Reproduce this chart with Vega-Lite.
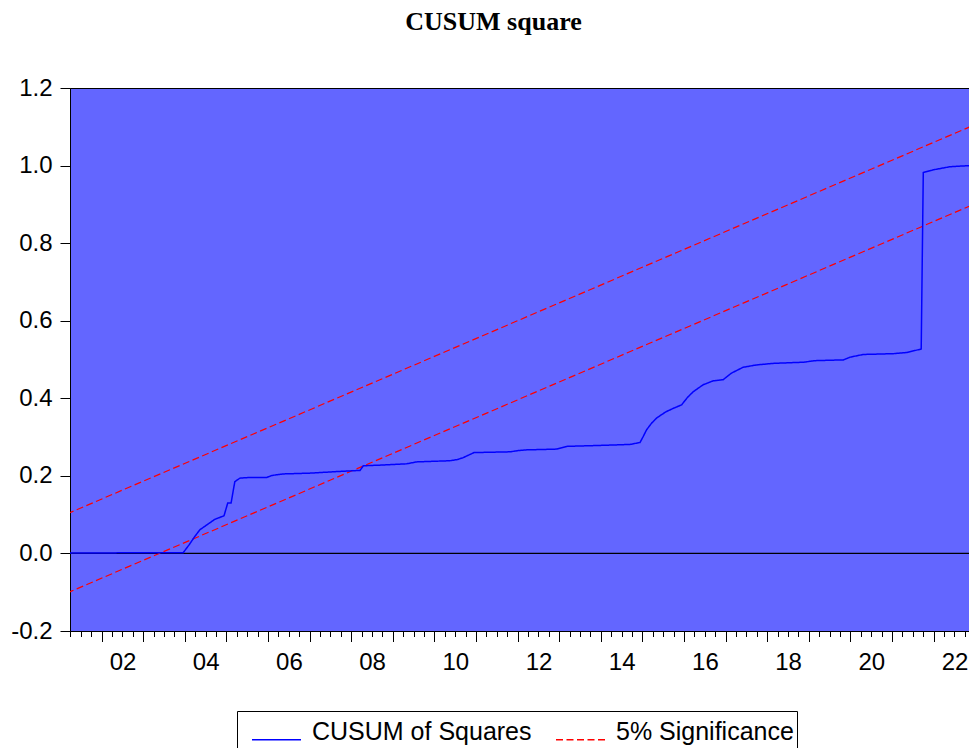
{
  "$schema": "https://vega.github.io/schema/vega-lite/v6.json",
  "width": 899,
  "height": 543,
  "autosize": {"type": "none"},
  "padding": {"left": 70, "top": 88, "right": 0, "bottom": 117},
  "background": "#FFFFFF",
  "title": {
    "text": "CUSUM square",
    "font": "Liberation Serif",
    "fontSize": 26,
    "fontWeight": "bold",
    "color": "#000000",
    "anchor": "middle",
    "dx": -26,
    "baseline": "alphabetic",
    "offset": 20
  },
  "config": {
    "view": {"fill": "#6366FF", "stroke": "#000000", "strokeWidth": 1},
    "axis": {
      "labelFont": "Liberation Sans",
      "labelColor": "#000000",
      "tickColor": "#000000",
      "domainColor": "#000000",
      "grid": false,
      "title": null
    },
    "legend": {
      "orient": "none",
      "legendX": 167,
      "legendY": 623,
      "direction": "horizontal",
      "strokeColor": "#000000",
      "fillColor": "#FFFFFF",
      "padding": 3,
      "symbolType": "stroke",
      "symbolSize": 2401,
      "symbolStrokeWidth": 1.3,
      "symbolOffset": 11,
      "labelOffset": 10,
      "columnPadding": 12,
      "labelFont": "Liberation Sans",
      "labelFontSize": 25,
      "labelColor": "#000000",
      "labelBaseline": "alphabetic",
      "labelLimit": 400,
      "title": null
    }
  },
  "datasets": {
    "zero": [
      {"t": 2001.167, "v": 0},
      {"t": 2022.917, "v": 0}
    ],
    "bands": [
      {"t": 2001.167, "v": 0.102, "series": "5% Significance", "band": "upper"},
      {"t": 2022.917, "v": 1.102, "series": "5% Significance", "band": "upper"},
      {"t": 2001.167, "v": -0.102, "series": "5% Significance", "band": "lower"},
      {"t": 2022.917, "v": 0.898, "series": "5% Significance", "band": "lower"}
    ],
    "cusum": [
      {"t": 2001.167, "v": 0.001, "series": "CUSUM of Squares"},
      {"t": 2003.96, "v": 0.002, "series": "CUSUM of Squares"},
      {"t": 2004.10, "v": 0.022, "series": "CUSUM of Squares"},
      {"t": 2004.24, "v": 0.044, "series": "CUSUM of Squares"},
      {"t": 2004.36, "v": 0.061, "series": "CUSUM of Squares"},
      {"t": 2004.56, "v": 0.076, "series": "CUSUM of Squares"},
      {"t": 2004.72, "v": 0.088, "series": "CUSUM of Squares"},
      {"t": 2004.94, "v": 0.097, "series": "CUSUM of Squares"},
      {"t": 2005.03, "v": 0.130, "series": "CUSUM of Squares"},
      {"t": 2005.11, "v": 0.130, "series": "CUSUM of Squares"},
      {"t": 2005.20, "v": 0.185, "series": "CUSUM of Squares"},
      {"t": 2005.32, "v": 0.194, "series": "CUSUM of Squares"},
      {"t": 2005.56, "v": 0.196, "series": "CUSUM of Squares"},
      {"t": 2005.97, "v": 0.196, "series": "CUSUM of Squares"},
      {"t": 2006.09, "v": 0.201, "series": "CUSUM of Squares"},
      {"t": 2006.37, "v": 0.205, "series": "CUSUM of Squares"},
      {"t": 2007.00, "v": 0.207, "series": "CUSUM of Squares"},
      {"t": 2007.65, "v": 0.211, "series": "CUSUM of Squares"},
      {"t": 2008.21, "v": 0.214, "series": "CUSUM of Squares"},
      {"t": 2008.29, "v": 0.226, "series": "CUSUM of Squares"},
      {"t": 2008.77, "v": 0.228, "series": "CUSUM of Squares"},
      {"t": 2009.33, "v": 0.231, "series": "CUSUM of Squares"},
      {"t": 2009.57, "v": 0.236, "series": "CUSUM of Squares"},
      {"t": 2010.37, "v": 0.239, "series": "CUSUM of Squares"},
      {"t": 2010.55, "v": 0.242, "series": "CUSUM of Squares"},
      {"t": 2010.69, "v": 0.247, "series": "CUSUM of Squares"},
      {"t": 2010.95, "v": 0.260, "series": "CUSUM of Squares"},
      {"t": 2011.82, "v": 0.262, "series": "CUSUM of Squares"},
      {"t": 2012.00, "v": 0.265, "series": "CUSUM of Squares"},
      {"t": 2012.22, "v": 0.267, "series": "CUSUM of Squares"},
      {"t": 2012.94, "v": 0.269, "series": "CUSUM of Squares"},
      {"t": 2013.18, "v": 0.276, "series": "CUSUM of Squares"},
      {"t": 2014.14, "v": 0.279, "series": "CUSUM of Squares"},
      {"t": 2014.70, "v": 0.281, "series": "CUSUM of Squares"},
      {"t": 2014.94, "v": 0.286, "series": "CUSUM of Squares"},
      {"t": 2015.02, "v": 0.302, "series": "CUSUM of Squares"},
      {"t": 2015.10, "v": 0.319, "series": "CUSUM of Squares"},
      {"t": 2015.22, "v": 0.336, "series": "CUSUM of Squares"},
      {"t": 2015.34, "v": 0.349, "series": "CUSUM of Squares"},
      {"t": 2015.46, "v": 0.358, "series": "CUSUM of Squares"},
      {"t": 2015.58, "v": 0.366, "series": "CUSUM of Squares"},
      {"t": 2015.76, "v": 0.375, "series": "CUSUM of Squares"},
      {"t": 2015.94, "v": 0.383, "series": "CUSUM of Squares"},
      {"t": 2016.08, "v": 0.402, "series": "CUSUM of Squares"},
      {"t": 2016.22, "v": 0.417, "series": "CUSUM of Squares"},
      {"t": 2016.46, "v": 0.435, "series": "CUSUM of Squares"},
      {"t": 2016.70, "v": 0.445, "series": "CUSUM of Squares"},
      {"t": 2016.94, "v": 0.448, "series": "CUSUM of Squares"},
      {"t": 2017.14, "v": 0.465, "series": "CUSUM of Squares"},
      {"t": 2017.42, "v": 0.480, "series": "CUSUM of Squares"},
      {"t": 2017.74, "v": 0.486, "series": "CUSUM of Squares"},
      {"t": 2018.14, "v": 0.490, "series": "CUSUM of Squares"},
      {"t": 2018.87, "v": 0.493, "series": "CUSUM of Squares"},
      {"t": 2019.15, "v": 0.497, "series": "CUSUM of Squares"},
      {"t": 2019.83, "v": 0.499, "series": "CUSUM of Squares"},
      {"t": 2019.99, "v": 0.506, "series": "CUSUM of Squares"},
      {"t": 2020.31, "v": 0.513, "series": "CUSUM of Squares"},
      {"t": 2021.03, "v": 0.515, "series": "CUSUM of Squares"},
      {"t": 2021.35, "v": 0.518, "series": "CUSUM of Squares"},
      {"t": 2021.70, "v": 0.527, "series": "CUSUM of Squares"},
      {"t": 2021.75, "v": 0.982, "series": "CUSUM of Squares"},
      {"t": 2021.99, "v": 0.989, "series": "CUSUM of Squares"},
      {"t": 2022.39, "v": 0.997, "series": "CUSUM of Squares"},
      {"t": 2022.71, "v": 0.999, "series": "CUSUM of Squares"},
      {"t": 2022.917, "v": 1.0, "series": "CUSUM of Squares"}
    ]
  },
  "layer": [
    {
      "data": {"name": "zero"},
      "mark": {"type": "line", "color": "#000000", "strokeWidth": 1.2, "clip": true},
      "encoding": {
        "x": {
          "field": "t",
          "type": "quantitative",
          "scale": {"domain": [2001.238, 2022.849], "nice": false, "zero": false},
          "axis": {
            "orient": "bottom",
            "values": [2002.5, 2004.5, 2006.5, 2008.5, 2010.5, 2012.5, 2014.5, 2016.5, 2018.5, 2020.5, 2022.5],
            "labelExpr": "substring(toString(floor(datum.value)), 2)",
            "ticks": false,
            "tickSize": 0,
            "domain": false,
            "labelPadding": 19,
            "labelFontSize": 24,
            "labelFlush": false,
            "labelOverlap": false
          }
        },
        "y": {
          "field": "v",
          "type": "quantitative",
          "scale": {"domain": [-0.2, 1.2], "nice": false, "zero": false},
          "axis": {
            "orient": "left",
            "values": [-0.2, 0, 0.2, 0.4, 0.6, 0.8, 1.0, 1.2],
            "labelExpr": "replace(format(datum.value, '.1f'), '\u2212', '-')",
            "tickSize": 10,
            "labelPadding": 8,
            "labelFontSize": 24,
            "domain": true
          }
        }
      }
    },
    {
      "data": {"name": "bands"},
      "mark": {"type": "line", "strokeWidth": 1.2, "clip": true},
      "encoding": {
        "x": {
          "field": "t",
          "type": "quantitative",
          "scale": {"domain": [2001.238, 2022.849], "nice": false, "zero": false},
          "axis": {
            "orient": "bottom",
            "values": [2001.25, 2001.5, 2001.75,
              2002, 2002.25, 2002.5, 2002.75, 2003, 2003.25, 2003.5, 2003.75,
              2004, 2004.25, 2004.5, 2004.75, 2005, 2005.25, 2005.5, 2005.75,
              2006, 2006.25, 2006.5, 2006.75, 2007, 2007.25, 2007.5, 2007.75,
              2008, 2008.25, 2008.5, 2008.75, 2009, 2009.25, 2009.5, 2009.75,
              2010, 2010.25, 2010.5, 2010.75, 2011, 2011.25, 2011.5, 2011.75,
              2012, 2012.25, 2012.5, 2012.75, 2013, 2013.25, 2013.5, 2013.75,
              2014, 2014.25, 2014.5, 2014.75, 2015, 2015.25, 2015.5, 2015.75,
              2016, 2016.25, 2016.5, 2016.75, 2017, 2017.25, 2017.5, 2017.75,
              2018, 2018.25, 2018.5, 2018.75, 2019, 2019.25, 2019.5, 2019.75,
              2020, 2020.25, 2020.5, 2020.75, 2021, 2021.25, 2021.5, 2021.75,
              2022, 2022.25, 2022.5, 2022.75],
            "labels": false,
            "tickSize": 5.5,
            "domain": true
          }
        },
        "y": {
          "field": "v",
          "type": "quantitative",
          "scale": {"domain": [-0.2, 1.2], "nice": false, "zero": false}
        },
        "detail": {"field": "band"},
        "color": {
          "field": "series",
          "type": "nominal",
          "scale": {"domain": ["CUSUM of Squares", "5% Significance"], "range": ["#0000FF", "#FF0000"]},
          "legend": {"title": null}
        },
        "strokeDash": {
          "field": "series",
          "type": "nominal",
          "scale": {"domain": ["CUSUM of Squares", "5% Significance"], "range": [[1, 0], [7, 3.5]]},
          "legend": {"title": null}
        }
      }
    },
    {
      "data": {"name": "cusum"},
      "mark": {"type": "line", "strokeWidth": 1.5, "clip": true},
      "encoding": {
        "x": {
          "field": "t",
          "type": "quantitative",
          "scale": {"domain": [2001.238, 2022.849], "nice": false, "zero": false},
          "axis": {
            "orient": "bottom",
            "values": [2002, 2003, 2004, 2005, 2006, 2007, 2008, 2009, 2010, 2011, 2012, 2013, 2014, 2015, 2016, 2017, 2018, 2019, 2020, 2021, 2022],
            "labels": false,
            "tickSize": 10.5,
            "domain": false
          }
        },
        "y": {
          "field": "v",
          "type": "quantitative",
          "scale": {"domain": [-0.2, 1.2], "nice": false, "zero": false}
        },
        "color": {
          "field": "series",
          "type": "nominal",
          "scale": {"domain": ["CUSUM of Squares", "5% Significance"], "range": ["#0000FF", "#FF0000"]},
          "legend": {"title": null}
        },
        "strokeDash": {
          "field": "series",
          "type": "nominal",
          "scale": {"domain": ["CUSUM of Squares", "5% Significance"], "range": [[1, 0], [7, 3.5]]},
          "legend": {"title": null}
        }
      }
    }
  ],
  "resolve": {"axis": {"x": "independent"}}
}
